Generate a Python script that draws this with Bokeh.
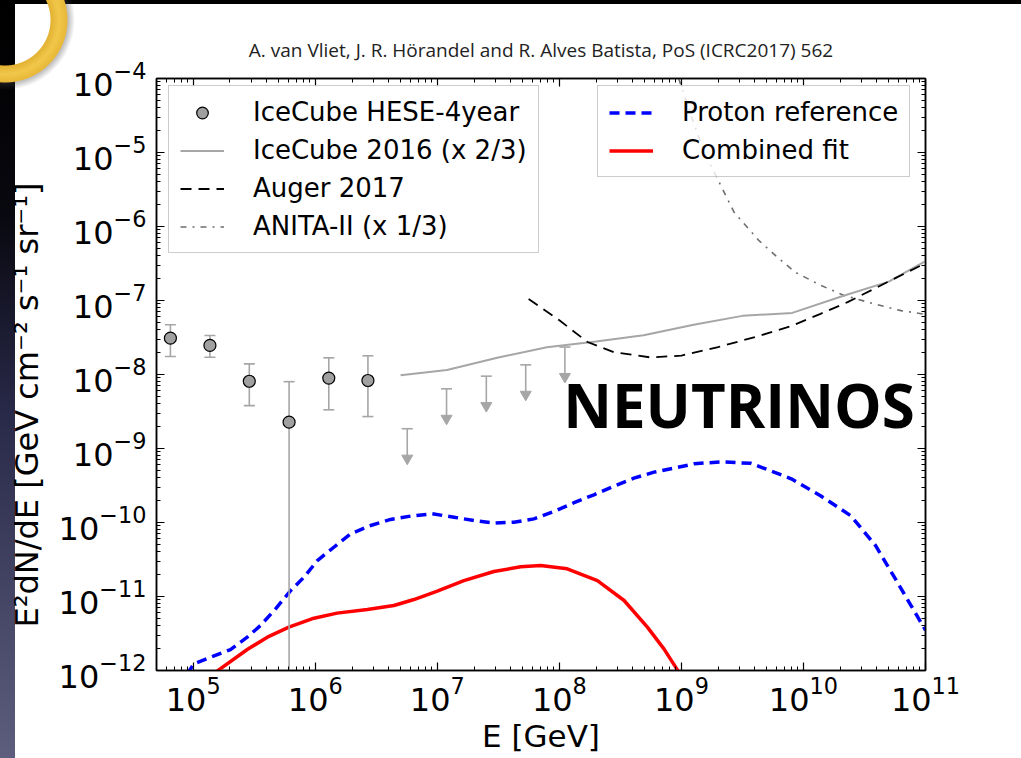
import math
from bokeh.plotting import figure
from bokeh.models import (ColumnDataSource, Legend, LegendItem, Label, LogAxis,
                          FixedTicker, CustomJSTickFormatter, Range1d)
from bokeh.embed import file_html
from bokeh.resources import INLINE

# ---------------- data ----------------
hese_E = [6.5e4, 1.37e5, 2.88e5, 6.1e5, 1.29e6, 2.7e6]
hese_flux = [3.1e-8, 2.47e-8, 8.1e-9, 2.27e-9, 8.95e-9, 8.3e-9]
hese_hi = [4.7e-8, 3.37e-8, 1.39e-8, 8.0e-9, 1.68e-8, 1.79e-8]
hese_lo = [1.75e-8, 1.71e-8, 3.8e-9, 1e-13, 3.33e-9, 2.7e-9]

ul_E = [5.67e6, 1.19e7, 2.52e7, 5.3e7, 1.11e8]
ul_flux = [1.85e-9, 6.4e-9, 9.5e-9, 1.35e-8, 2.35e-8]
UL_ARROW = 10 ** -0.40          # arrow length (factor) of the upper limits

ic16_E = [5.0e6, 1.2e7, 3.16e7, 7.9e7, 2.0e8, 4.9e8, 1.26e9, 3.16e9, 8.1e9, 2.1e10, 5.0e10, 1e11]
ic16_flux = [9.8e-9, 1.15e-8, 1.7e-8, 2.34e-8, 2.8e-8, 3.4e-8, 4.7e-8, 6.2e-8, 6.8e-8, 1.15e-7, 1.8e-7, 3.4e-7]

auger_E = [5.6e7, 1e8, 1.7e8, 2.8e8, 5.6e8, 1e9, 2.0e9, 4.0e9, 7.9e9, 1.38e10, 2.3e10, 4.9e10, 1e11]
auger_flux = [1.05e-7, 5.4e-8, 2.75e-8, 2.0e-8, 1.7e-8, 1.8e-8, 2.35e-8, 3.2e-8, 4.5e-8, 6.6e-8, 9.5e-8, 1.78e-7, 3.2e-7]

anita_E = [9.5e8, 1.26e9, 1.58e9, 1.8e9, 2.7e9, 4.3e9, 6.1e9, 8.6e9, 1.39e10, 2.15e10, 3.8e10, 6.3e10, 1e11]
anita_flux = [1.0e-4, 2.5e-5, 9.1e-6, 6.0e-6, 1.56e-6, 6.5e-7, 3.85e-7, 2.4e-7, 1.6e-7, 1.17e-7, 9.0e-8, 7.3e-8, 6.5e-8]

proton_E = [8.9e4, 1.01e5, 2.02e5, 2.77e5, 3.56e5, 4.73e5, 6.28e5, 8.07e5, 1.04e6, 1.42e6, 1.95e6,
            2.84e6, 4.14e6, 6.04e6, 9.1e6, 1.37e7, 2.0e7, 2.91e7, 4.25e7, 6.19e7, 9.04e7, 1.32e8,
            1.92e8, 2.81e8, 4.08e8, 5.96e8, 8.69e8, 1.27e9, 2.09e9, 3.72e9, 7.94e9, 1.38e10,
            2.45e10, 3.89e10, 5.75e10, 7.59e10, 1e11]
proton_flux = [8.9e-13, 1.23e-12, 1.92e-12, 2.82e-12, 4.06e-12, 6.82e-12, 1.2e-11, 1.82e-11, 3.06e-11,
               4.63e-11, 7.03e-11, 9.1e-11, 1.1e-10, 1.22e-10, 1.31e-10, 1.18e-10, 1.06e-10, 9.8e-11,
               1.01e-10, 1.12e-10, 1.41e-10, 1.85e-10, 2.37e-10, 3.1e-10, 3.97e-10, 4.79e-10,
               5.42e-10, 6.21e-10, 6.6e-10, 6.3e-10, 3.9e-10, 2.3e-10, 1.23e-10, 4.9e-11, 1.66e-11,
               7.6e-12, 3.5e-12]

fit_E = [1.32e5, 1.62e5, 2.77e5, 4.05e5, 6.08e5, 9.75e5, 1.51e6, 2.67e6, 4.41e6, 6.43e6, 1.0e7,
         1.65e7, 2.91e7, 4.82e7, 7.03e7, 1.16e8, 2.05e8, 3.39e8, 5.26e8, 7.19e8, 9.27e8, 1.07e9]
fit_flux = [7.6e-13, 1.02e-12, 1.92e-12, 2.82e-12, 3.85e-12, 5.09e-12, 5.96e-12, 6.67e-12, 7.55e-12,
            9.1e-12, 1.18e-11, 1.64e-11, 2.18e-11, 2.52e-11, 2.63e-11, 2.37e-11, 1.64e-11, 8.83e-12,
            3.85e-12, 1.96e-12, 1.02e-12, 6.3e-13]

x_major = [1e5, 1e6, 1e7, 1e8, 1e9, 1e10, 1e11]
y_major = [1e-12, 1e-11, 1e-10, 1e-9, 1e-8, 1e-7, 1e-6, 1e-5, 1e-4]
x_minor = [m * 10.0 ** k for k in range(4, 11) for m in range(2, 10)]
y_minor = [m * 10.0 ** k for k in range(-12, -4) for m in range(2, 10)]

TITLE = "A. van Vliet, J. R. Hörandel and R. Alves Batista, PoS (ICRC2017) 562"
X_LABEL = "E [GeV]"
Y_LABEL = "E²dN/dE  [GeV  cm⁻²   s⁻¹   sr⁻¹]"
TAG = "NEUTRINOS"
TAG_POS = (1.075e8, 3.9e-9)

GRAY = "#a6a6a6"

# ---------------- figure ----------------
p = figure(width=1021, height=758, x_axis_type="log", y_axis_type="log",
           x_range=Range1d(5e4, 1e11), y_range=Range1d(1e-12, 1e-4),
           output_backend="svg", toolbar_location=None, title=TITLE,
           min_border_left=156, min_border_right=96, min_border_top=78, min_border_bottom=88)
p.border_fill_color = None
p.background_fill_color = "white"
p.outline_line_color = "black"
p.outline_line_width = 1.5
p.xgrid.grid_line_color = None
p.ygrid.grid_line_color = None
p.styles = {
    "background": (
        "radial-gradient(circle at 5px 20px, rgba(0,0,0,0) 0px, rgba(0,0,0,0) 45px, #e3b232 46px, "
        "#f1c74a 54px, #e8b838 62px, rgba(70,70,70,0.35) 63px, rgba(70,70,70,0) 70px) 0 0 / 130px 130px no-repeat, "
        "linear-gradient(#000, #000) 0 0 / 100% 4px no-repeat, "
        "linear-gradient(to bottom, #000 0%, #08080f 28%, #29294a 55%, #5d5d7d 100%) 0 0 / 15px 100% no-repeat, "
        "#ffffff"
    )
}

p.title.text_font = "Open Sans"
p.title.text_font_size = "19px"
p.title.text_font_style = "normal"
p.title.text_color = "#222222"
p.title.align = "center"
p.title.standoff = 32

bottom_ax = p.below[0]
left_ax = p.left[0]
bottom_ax.ticker = FixedTicker(ticks=x_major, minor_ticks=x_minor)
left_ax.ticker = FixedTicker(ticks=y_major, minor_ticks=y_minor)
top_ax = LogAxis(ticker=FixedTicker(ticks=x_major, minor_ticks=x_minor),
                 formatter=CustomJSTickFormatter(code="return ''"))
right_ax = LogAxis(ticker=FixedTicker(ticks=y_major, minor_ticks=y_minor),
                   formatter=CustomJSTickFormatter(code="return ''"))
p.add_layout(top_ax, "above")
p.add_layout(right_ax, "right")

for ax in (bottom_ax, left_ax, top_ax, right_ax):
    ax.major_tick_in = 8
    ax.major_tick_out = 0
    ax.minor_tick_in = 4
    ax.minor_tick_out = 0
    ax.major_tick_line_color = "black"
    ax.minor_tick_line_color = "black"
    ax.major_tick_line_width = 1.2
    ax.minor_tick_line_width = 1
    ax.axis_line_color = "black"
    ax.axis_line_width = 1.5
    ax.major_label_text_font = "DejaVu Sans"
    ax.major_label_text_font_size = "32px"
    ax.major_label_text_color = "black"
for ax in (top_ax, right_ax):
    ax.major_label_text_font_size = "1px"
    ax.major_label_standoff = 0

bottom_ax.major_label_standoff = 5
left_ax.major_label_standoff = 10
bottom_ax.axis_label = X_LABEL
left_ax.axis_label = Y_LABEL
for ax in (bottom_ax, left_ax):
    ax.axis_label_text_font = "DejaVu Sans"
    ax.axis_label_text_font_style = "normal"
    ax.axis_label_text_color = "black"
bottom_ax.axis_label_text_font_size = "31px"
left_ax.axis_label_text_font_size = "32px"
bottom_ax.axis_label_standoff = 4
left_ax.axis_label_standoff = 10

# ---------------- data glyphs ----------------
anita = p.line(anita_E, anita_flux, line_color="#6e6e6e", line_width=1.6, line_dash="6 6 2 6")
ic16 = p.line(ic16_E, ic16_flux, line_color=GRAY, line_width=2)
auger = p.line(auger_E, auger_flux, line_color="black", line_width=1.8, line_dash="11 7")
proton = p.line(proton_E, proton_flux, line_color="#0000ff", line_width=3.5, line_dash="10 6")
fit = p.line(fit_E, fit_flux, line_color="#ff0000", line_width=3.5)

hese = ColumnDataSource(dict(E=hese_E, f=hese_flux, hi=hese_hi, lo=hese_lo))
p.segment(x0="E", y0="lo", x1="E", y1="hi", source=hese, line_color=GRAY, line_width=1.6)
p.scatter(x="E", y="hi", source=hese, marker="dash", size=11, line_color=GRAY, line_width=1.6)
p.scatter(x="E", y="lo", source=hese, marker="dash", size=11, line_color=GRAY, line_width=1.6)
hese_pts = p.scatter(x="E", y="f", source=hese, marker="circle", size=12,
                     fill_color="#a0a0a0", line_color="black", line_width=1.2)

ul = ColumnDataSource(dict(E=ul_E, f=ul_flux, tip=[v * UL_ARROW for v in ul_flux]))
p.segment(x0="E", y0="f", x1="E", y1="tip", source=ul, line_color=GRAY, line_width=1.6)
p.scatter(x="E", y="f", source=ul, marker="dash", size=11, line_color=GRAY, line_width=1.6)
p.scatter(x="E", y="tip", source=ul, marker="inverted_triangle", size=11,
          fill_color=GRAY, line_color=GRAY)

# ---------------- legends ----------------
def make_legend(items, loc):
    return Legend(items=items, location=loc, margin=0,
                  label_text_font="DejaVu Sans", label_text_font_size="26px",
                  label_text_color="black",
                  glyph_width=44, glyph_height=29, label_height=29, spacing=8,
                  padding=11, label_standoff=29,
                  border_line_color="#9a9a9a", border_line_width=1.5,
                  background_fill_color="white", background_fill_alpha=0.8)

leg1 = make_legend([
    LegendItem(label="IceCube HESE-4year", renderers=[hese_pts]),
    LegendItem(label="IceCube 2016 (x 2/3)", renderers=[ic16]),
    LegendItem(label="Auger 2017", renderers=[auger]),
    LegendItem(label="ANITA-II (x 1/3)", renderers=[anita]),
], (12, 417))
leg2 = make_legend([
    LegendItem(label="Proton reference", renderers=[proton]),
    LegendItem(label="Combined fit", renderers=[fit]),
], (441, 493))
p.add_layout(leg1)
p.add_layout(leg2)

# ---------------- big tag ----------------
p.add_layout(Label(x=TAG_POS[0], y=TAG_POS[1], text=TAG, text_font="Open Sans",
                   text_font_style="bold", text_font_size="60px", text_color="black",
                   text_baseline="alphabetic", text_align="left"))

open("out.html", "w").write(file_html(p, INLINE))
